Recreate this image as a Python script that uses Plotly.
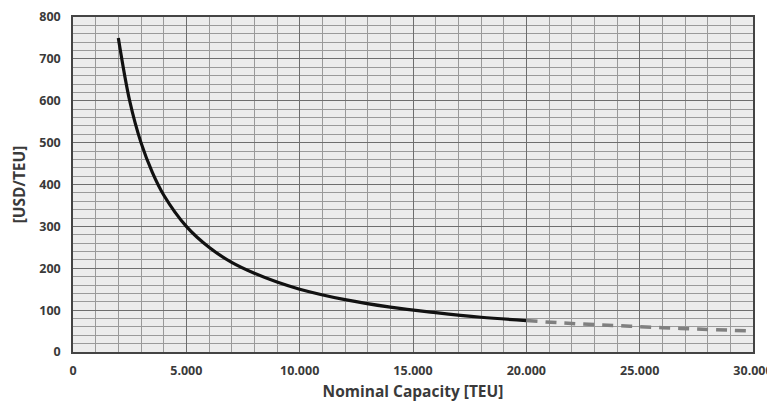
import plotly.graph_objects as go

# Data
cap_solid = [2000, 2500, 3000, 3500, 4000, 5000, 6000, 7000, 8000, 9000, 10000, 12000, 14000, 16000, 18000, 20000]
cost_solid = [750, 600, 500, 429, 375, 300, 250, 214, 188, 167, 150, 125, 107, 94, 83, 75]
cap_dash = [20000, 22000, 24000, 26000, 28000, 30000]
cost_dash = [75, 68, 63, 58, 54, 50]

x_ticks = [0, 5000, 10000, 15000, 20000, 25000, 30000]
y_ticks = [0, 100, 200, 300, 400, 500, 600, 700, 800]

fig = go.Figure()
fig.add_trace(go.Scatter(x=cap_solid, y=cost_solid, mode="lines",
                         line=dict(color="#111111", width=3.2, shape="spline"),
                         showlegend=False, cliponaxis=False))
fig.add_trace(go.Scatter(x=cap_dash, y=cost_dash, mode="lines",
                         line=dict(color="#808080", width=3.5, dash="11px,8px", shape="spline"),
                         showlegend=False))

font_fam = "Open Sans, Liberation Sans, Arial, sans-serif"
fig.update_layout(
    width=767, height=401,
    margin=dict(l=65, r=22, t=9, b=57, autoexpand=False),
    paper_bgcolor="white",
    plot_bgcolor="#ececec",
    separators=",.",
    font=dict(family=font_fam, color="#3a3a3a"),
    xaxis=dict(
        range=[0, 30000], tickvals=x_ticks, tickformat=",d", automargin=False,
        showgrid=True, gridcolor="#6e6e6e", gridwidth=1,
        minor=dict(dtick=1000, showgrid=True, gridcolor="#9a9a9a", gridwidth=1),
        showline=True, linecolor="#444444", linewidth=1.5, mirror=True,
        zeroline=False, ticks="", ticklabelstandoff=6,
        tickfont=dict(size=12.5, family=font_fam, weight="bold", color="#3a3a3a"),
        title=dict(text="Nominal Capacity [TEU]", standoff=8,
                   font=dict(size=15.5, family=font_fam, weight="bold", color="#3a3a3a")),
    ),
    yaxis=dict(
        range=[0, 800], tickvals=y_ticks, automargin=False,
        showgrid=True, gridcolor="#6e6e6e", gridwidth=1,
        minor=dict(dtick=20, showgrid=True, gridcolor="#9a9a9a", gridwidth=1),
        showline=True, linecolor="#444444", linewidth=1.5, mirror=True,
        zeroline=False, ticks="", ticklabelstandoff=8,
        tickfont=dict(size=12.5, family=font_fam, weight="bold", color="#3a3a3a"),
        title=dict(text="[USD/TEU]", standoff=10,
                   font=dict(size=15.5, family=font_fam, weight="bold", color="#3a3a3a")),
    ),
)

fig.write_html("out.html")
